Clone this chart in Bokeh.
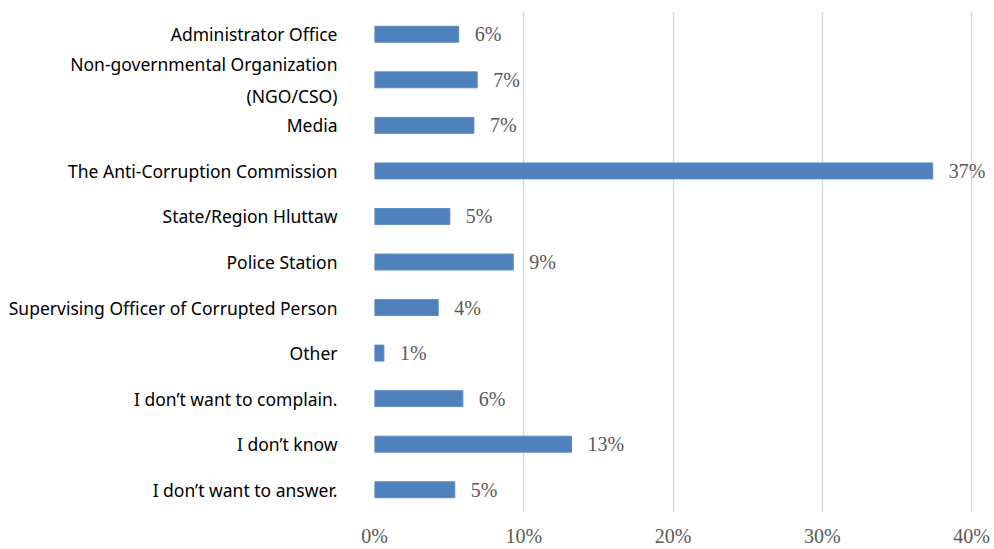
from bokeh.plotting import figure
from bokeh.models import FactorRange, FixedTicker, NumeralTickFormatter, ColumnDataSource, Range1d
from bokeh.core.properties import value
from bokeh.embed import file_html
from bokeh.resources import INLINE

categories = [
    "Administrator Office",
    "Non-governmental Organization\n(NGO/CSO)",
    "Media",
    "The Anti-Corruption Commission",
    "State/Region Hluttaw",
    "Police Station",
    "Supervising Officer of Corrupted Person",
    "Other",
    "I don\u2019t want to complain.",
    "I don\u2019t know",
    "I don\u2019t want to answer.",
]
shares = [0.0564, 0.0688, 0.0666, 0.374, 0.0505, 0.093, 0.0427, 0.0063, 0.0592, 0.132, 0.0538]
x_ticks = [0, 0.1, 0.2, 0.3, 0.4]

labels = [f"{round(v * 100)}%" for v in shares]
src = ColumnDataSource(dict(cat=categories, val=shares, lab=labels))

p = figure(
    width=994, height=549,
    y_range=FactorRange(*reversed(categories), range_padding=0),
    x_range=Range1d(0, 0.4154),
    output_backend="svg", toolbar_location=None,
    min_border_top=11, min_border_right=0, min_border_bottom=36, min_border_left=374,
)
p.outline_line_color = None

p.hbar(y="cat", right="val", left=0, height=0.35, source=src,
       fill_color="#4f81bd", line_color="#5b8bc4", line_width=1)

p.text(x="val", y="cat", text="lab", source=src, x_offset=16,
       text_baseline="middle", text_align="left",
       text_font=value("Liberation Serif"), text_font_size="20px",
       text_color="#595959")

xa = p.xaxis[0]
xa.ticker = FixedTicker(ticks=x_ticks)
xa.formatter = NumeralTickFormatter(format="0%")
xa.axis_line_color = None
xa.major_tick_line_color = None
xa.minor_tick_line_color = None
xa.major_tick_out = 0
xa.major_tick_in = 0
xa.major_label_standoff = 12
xa.major_label_text_font = "Liberation Serif"
xa.major_label_text_font_size = "20px"
xa.major_label_text_color = "#595959"

ya = p.yaxis[0]
ya.axis_line_color = None
ya.major_tick_line_color = None
ya.major_tick_out = 0
ya.major_tick_in = 0
ya.major_label_standoff = 37
ya.major_label_text_font = "Noto Sans"
ya.major_label_text_font_size = "17.5px"
ya.major_label_text_color = "#000000"
ya.major_label_text_line_height = 1.33

p.xgrid.grid_line_color = "#d9d9d9"
p.xgrid.grid_line_width = 1.5
p.xgrid.ticker = FixedTicker(ticks=x_ticks)
p.ygrid.grid_line_color = None

open("out.html", "w").write(file_html(p, INLINE))
